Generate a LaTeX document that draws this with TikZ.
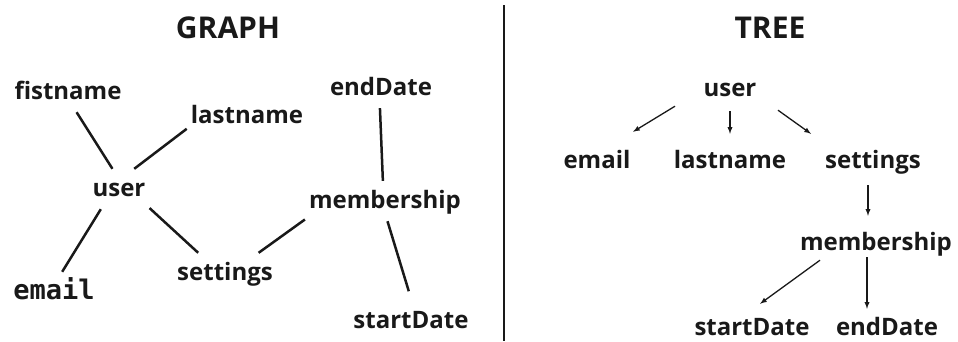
\documentclass[tikz,border=0pt]{standalone}
\usepackage{fontspec}
\setmainfont{Open Sans}
\newfontfamily\monoface{DejaVu Sans Mono}

\tikzset{
    word/.style={font=\bfseries\fontsize{24}{24}\selectfont, text=black!90,
        inner xsep=4pt, inner ysep=8pt, text height=19pt, text depth=5pt},
    heading/.style={font=\bfseries\fontsize{30}{30}\selectfont, text=black!90},
    edge/.style={line width=2.5pt, black!90},
    child/.style={->, line width=1.3pt, black!90},
}

\begin{document}
\begin{tikzpicture}[>=latex, x=1pt, y=-1pt]
    \useasboundingbox (0,0) rectangle (958,341);

    % Tiêu đề
    \node[heading] (graphtitle) at (228,28) {GRAPH};
    \node[heading] (treetitle) at (770,28) {TREE};

    % Đường phân cách
    \draw[line width=2.5pt, black!90] (504,5) -- (504,341);

    % Đồ thị
    \node[word] (fistname) at (68,92) {fistname};
    \node[word] (lastname) at (247,116) {lastname};
    \node[word] (endDate) at (381,88) {endDate};
    \node[word] (user) at (119,189) {user};
    \node[word] (membership) at (385,201) {membership};
    \node[word] (settings) at (225,273) {settings};
    \node[word, font=\monoface\bfseries\fontsize{27}{27}\selectfont] (email) at (54,292) {email};
    \node[word] (startDate) at (411,321) {startDate};

    \draw[edge] (fistname.-67) -- (user.108);
    \draw[edge] (lastname.192) -- (user.53);
    \draw[edge] (user.228) -- (email.68);
    \draw[edge] (user.-32) -- (settings.143);
    \draw[edge] (settings.31) -- (membership.193);
    \draw[edge] (endDate.-93) -- (membership.96);
    \draw[edge, shorten >=10pt] (membership.-83) -- (startDate.88);

    % Cây
    \node[word] (tuser) at (730,89) {user};
    \node[word] (temail) at (597,161) {email};
    \node[word] (tlastname) at (730,161) {lastname};
    \node[word] (tsettings) at (873,161) {settings};
    \node[word] (tmembership) at (876,243) {membership};
    \node[word] (tstartDate) at (752,328) {startDate};
    \node[word] (tendDate) at (887,328) {endDate};

    \draw[child] ([xshift=-55pt, yshift=3pt]tuser.south) -- ([xshift=36pt, yshift=9pt]temail.north);
    \draw[child] ([yshift=-2pt]tuser.south) -- ([yshift=7pt]tlastname.north);
    \draw[child] ([xshift=48pt, yshift=-1pt]tuser.south) -- ([xshift=-62pt, yshift=7pt]tsettings.north);
    \draw[child] ([xshift=-5pt, yshift=-4pt]tsettings.south) -- ([xshift=-8pt, yshift=7pt]tmembership.north);
    \draw[child] ([xshift=-56pt, yshift=3pt]tmembership.south) -- ([xshift=8pt, yshift=4pt]tstartDate.north);
    \draw[child] ([xshift=-9pt, yshift=6pt]tmembership.south) -- ([xshift=-20pt, yshift=-1pt]tendDate.north);
\end{tikzpicture}
\end{document}
